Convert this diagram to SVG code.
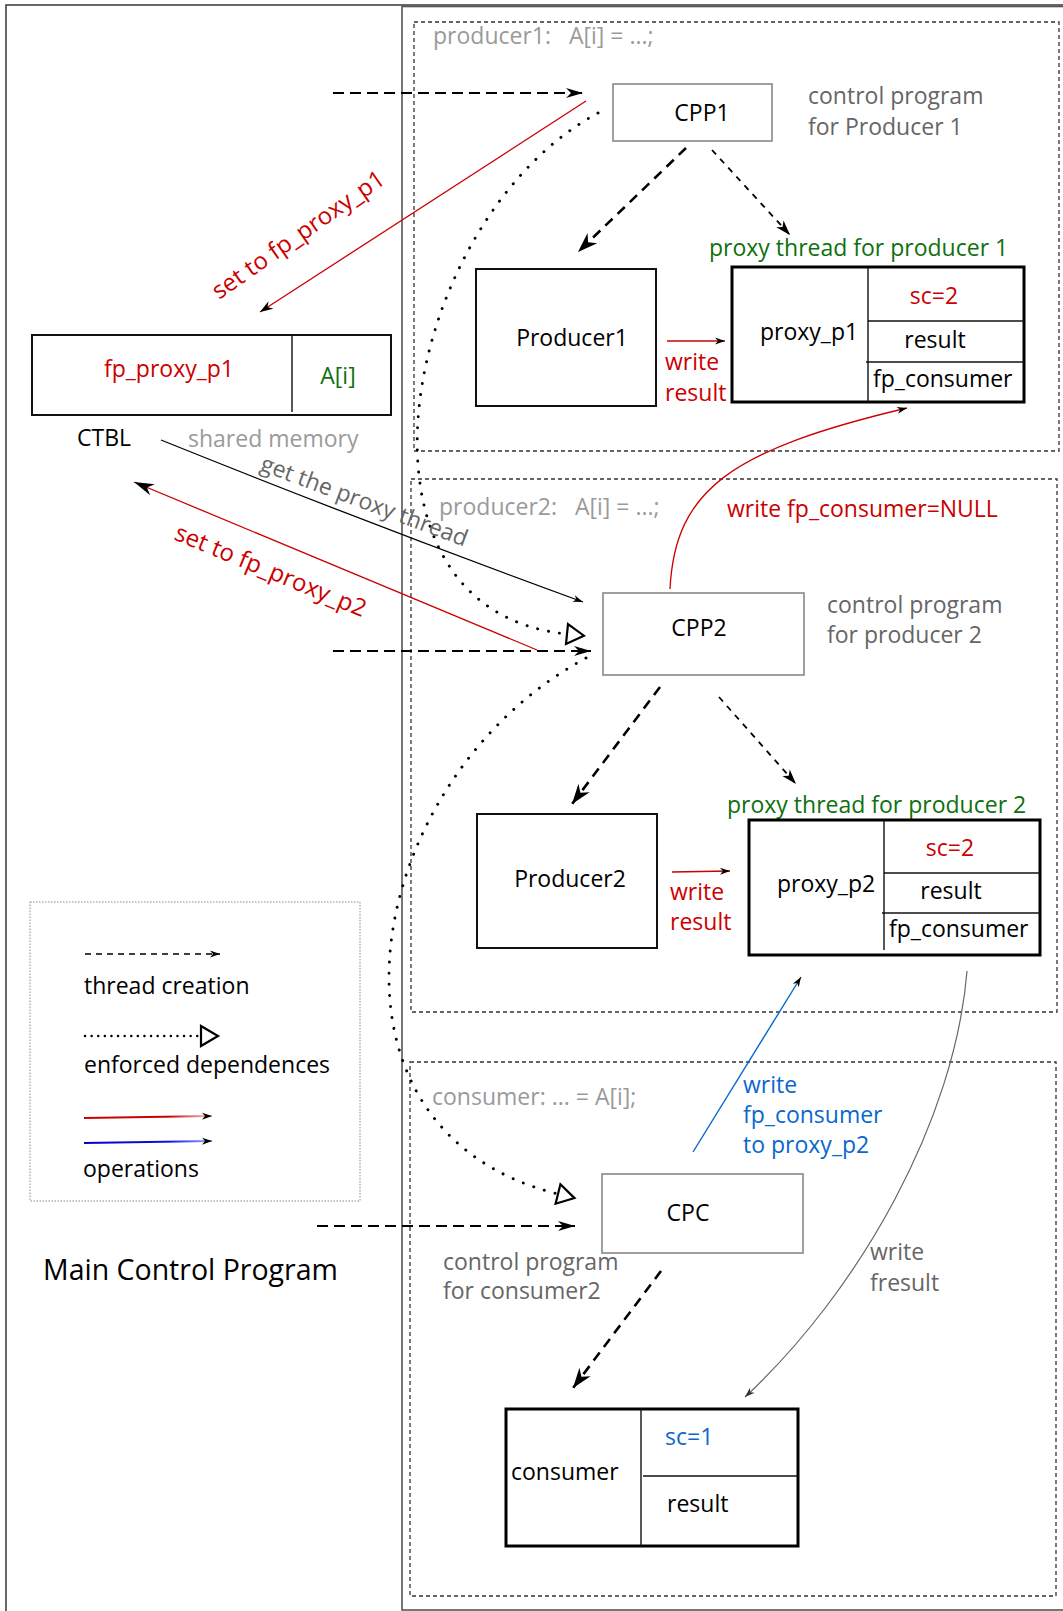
<svg xmlns="http://www.w3.org/2000/svg" width="1063" height="1611" viewBox="0 0 1063 1611">
<style>
text{font-family:"Open Sans","Noto Sans","DejaVu Sans",sans-serif;font-size:23px;fill:#000}
.red{fill:#cc0000}.grn{fill:#0f700f}.blu{fill:#0a68cc}.lg{fill:#9a9a9a}.dg{fill:#666}
.mid{text-anchor:middle}
.node{fill:#fff;stroke:#111;stroke-width:2}
.cp{fill:#fff;stroke:#888;stroke-width:1.6}
.px{fill:#fff;stroke:#000;stroke-width:3}
.div{stroke:#111;stroke-width:1.4;fill:none}
.region{fill:none;stroke:#333;stroke-width:1.3;stroke-dasharray:4 3}
.tc1{fill:none;stroke:#000;stroke-width:2;stroke-dasharray:11 6}
.tc2{fill:none;stroke:#000;stroke-width:2.6;stroke-dasharray:10 7}
.tc3{fill:none;stroke:#000;stroke-width:1.8;stroke-dasharray:6 6}
.dot{fill:none;stroke:#000;stroke-width:2.9;stroke-linecap:round;stroke-dasharray:0.1 11}
.op{fill:none;stroke:#cc0000;stroke-width:1.3}
</style>
<defs>
<marker id="aT" markerUnits="userSpaceOnUse" viewBox="-19 -8 20 16" markerWidth="20" markerHeight="16" refX="0" refY="0" orient="auto"><path d="M0,0 L-17,-5 L-12,0 L-17,5 Z" fill="#000"/></marker>
<marker id="aT2" markerUnits="userSpaceOnUse" viewBox="-22 -9 23 18" markerWidth="23" markerHeight="18" refX="0" refY="0" orient="auto"><path d="M0,0 L-20,-7 L-14,0 L-20,7 Z" fill="#000"/></marker>
<marker id="aT3" markerUnits="userSpaceOnUse" viewBox="-17 -7 18 14" markerWidth="18" markerHeight="14" refX="0" refY="0" orient="auto"><path d="M0,0 L-15,-5 L-11,0 L-15,5 Z" fill="#000"/></marker>
<marker id="aS" markerUnits="userSpaceOnUse" viewBox="-12 -6 13 12" markerWidth="13" markerHeight="12" refX="0" refY="0" orient="auto"><path d="M0,0 L-10,-3.5 L-7,0 L-10,3.5 Z" fill="#000"/></marker>
<marker id="aM" markerUnits="userSpaceOnUse" viewBox="-15 -6 16 12" markerWidth="16" markerHeight="12" refX="0" refY="0" orient="auto"><path d="M0,0 L-13,-4.5 L-9,0 L-13,4.5 Z" fill="#000"/></marker>
<marker id="aL" markerUnits="userSpaceOnUse" viewBox="-22 -8 23 16" markerWidth="23" markerHeight="16" refX="0" refY="0" orient="auto"><path d="M0,0 L-20,-6 L-14,0 L-20,6 Z" fill="#000"/></marker>
<marker id="aG" markerUnits="userSpaceOnUse" viewBox="-12 -6 13 12" markerWidth="13" markerHeight="12" refX="0" refY="0" orient="auto"><path d="M0,0 L-10,-3.5 L-7,0 L-10,3.5 Z" fill="#333"/></marker>
<marker id="tri" markerUnits="userSpaceOnUse" viewBox="-2 -12 22 24" markerWidth="22" markerHeight="24" refX="0" refY="0" orient="auto"><path d="M0,-10 L17,0 L0,10 Z" fill="#fff" stroke="#000" stroke-width="2.2" stroke-linejoin="miter"/></marker>
<linearGradient id="gR" gradientUnits="userSpaceOnUse" x1="84" y1="0" x2="205" y2="0"><stop offset="0" stop-color="#cc0000"/><stop offset="0.7" stop-color="#cc0000"/><stop offset="1" stop-color="#f0b0b0"/></linearGradient>
<linearGradient id="gB" gradientUnits="userSpaceOnUse" x1="84" y1="0" x2="205" y2="0"><stop offset="0" stop-color="#0000cc"/><stop offset="0.7" stop-color="#1010dd"/><stop offset="1" stop-color="#9090ff"/></linearGradient>
</defs>

<g id="frames">
<rect x="6" y="5" width="1120" height="1700" fill="none" stroke="#444" stroke-width="1.6"/>
<rect x="402" y="6.5" width="720" height="1603.5" fill="none" stroke="#555" stroke-width="1.6"/>
</g>

<g id="region-producer1">
<rect class="region" x="414" y="22" width="645" height="429"/>
<text class="lg" x="433" y="44" xml:space="preserve">producer1:   A[i] = ...;</text>
</g>
<g id="region-producer2">
<rect class="region" x="411" y="479" width="646" height="533"/>
<text class="lg" x="439" y="515" xml:space="preserve">producer2:   A[i] = ...;</text>
</g>
<g id="region-consumer">
<rect class="region" x="410" y="1062" width="646" height="534"/>
<text class="lg" x="432" y="1105">consumer: ... = A[i];</text>
</g>

<g id="ctbl">
<rect class="node" x="32" y="335" width="359" height="80"/>
<line class="div" x1="292" y1="335" x2="292" y2="412"/>
<text class="red mid" x="169" y="377">fp_proxy_p1</text>
<text class="grn mid" x="338" y="384">A[i]</text>
<text x="77" y="446">CTBL</text>
<text class="lg" x="188" y="447">shared memory</text>
</g>

<g id="cpp1">
<rect class="cp" x="613" y="84" width="159" height="57"/>
<text class="mid" x="702" y="121">CPP1</text>
<text class="dg" x="808" y="104">control program</text>
<text class="dg" x="808" y="135">for Producer 1</text>
</g>

<g id="producer1">
<rect class="node" x="476" y="269" width="180" height="137"/>
<text class="mid" x="572" y="346">Producer1</text>
</g>

<g id="proxy_p1">
<text class="grn" x="709" y="256">proxy thread for producer 1</text>
<rect class="px" x="732" y="267" width="292" height="135"/>
<line class="div" x1="868" y1="267" x2="868" y2="402"/>
<line class="div" x1="868" y1="321" x2="1024" y2="321"/>
<line class="div" x1="866" y1="362" x2="1024" y2="362"/>
<text x="760" y="340">proxy_p1</text>
<text class="red mid" x="934" y="304">sc=2</text>
<text class="mid" x="935" y="348">result</text>
<text x="873" y="387">fp_consumer</text>
</g>

<g id="cpp2">
<rect class="cp" x="603" y="593" width="201" height="82"/>
<text class="mid" x="699" y="636">CPP2</text>
<text class="dg" x="827" y="613">control program</text>
<text class="dg" x="827" y="643">for producer 2</text>
</g>

<g id="producer2">
<rect class="node" x="477" y="814" width="180" height="134"/>
<text class="mid" x="570" y="887">Producer2</text>
</g>

<g id="proxy_p2">
<text class="grn" x="727" y="813">proxy thread for producer 2</text>
<rect class="px" x="749" y="820" width="291" height="135"/>
<line class="div" x1="884" y1="820" x2="884" y2="950"/>
<line class="div" x1="884" y1="873" x2="1040" y2="873"/>
<line class="div" x1="882" y1="913" x2="1040" y2="913"/>
<text x="777" y="892">proxy_p2</text>
<text class="red mid" x="950" y="856">sc=2</text>
<text class="mid" x="951" y="899">result</text>
<text x="889" y="937">fp_consumer</text>
</g>

<g id="cpc">
<rect class="cp" x="602" y="1174" width="201" height="79"/>
<text class="mid" x="688" y="1221">CPC</text>
<text class="dg" x="443" y="1270">control program</text>
<text class="dg" x="443" y="1299">for consumer2</text>
</g>

<g id="consumer">
<rect class="px" x="506" y="1409" width="292" height="137"/>
<line class="div" x1="641" y1="1409" x2="641" y2="1546"/>
<line class="div" x1="643" y1="1476" x2="798" y2="1476"/>
<text x="511" y="1480">consumer</text>
<text class="blu" x="665" y="1445">sc=1</text>
<text x="667" y="1512">result</text>
</g>

<g id="legend">
<rect x="30" y="902" width="330" height="299" fill="none" stroke="#888" stroke-width="1" stroke-dasharray="1.5 1.5"/>
<line x1="85" y1="954" x2="220" y2="954" fill="none" stroke="#000" stroke-width="1.5" stroke-dasharray="6 5" marker-end="url(#aS)"/>
<text x="84" y="994">thread creation</text>
<path d="M85,1036 L201,1036" fill="none" stroke="#000" stroke-width="2.4" stroke-linecap="round" stroke-dasharray="0.1 6.5" marker-end="url(#tri)"/>
<text x="84" y="1073">enforced dependences</text>
<line x1="84" y1="1118" x2="212" y2="1116" stroke="url(#gR)" stroke-width="1.8" marker-end="url(#aS)"/>
<line x1="84" y1="1143" x2="212" y2="1141" stroke="url(#gB)" stroke-width="1.8" marker-end="url(#aS)"/>
<text x="83" y="1177">operations</text>
</g>

<g id="main-label">
<text x="43" y="1280" style="font-size:28.5px">Main Control Program</text>
</g>

<g id="connectors">
<line class="tc1" x1="333" y1="93" x2="583" y2="93" marker-end="url(#aT)"/>
<line class="tc1" x1="333" y1="651" x2="591" y2="651" marker-end="url(#aT)"/>
<line class="tc1" x1="317" y1="1226" x2="575" y2="1226" marker-end="url(#aT)"/>
<line class="tc2" x1="686" y1="148" x2="578" y2="252" marker-end="url(#aT2)"/>
<line class="tc3" x1="712" y1="150" x2="790" y2="235" marker-end="url(#aT3)"/>
<line class="tc2" x1="660" y1="687" x2="572" y2="804" marker-end="url(#aT2)"/>
<line class="tc3" x1="719" y1="697" x2="796" y2="784" marker-end="url(#aT3)"/>
<line class="tc2" x1="661" y1="1271" x2="573" y2="1388" marker-end="url(#aT2)"/>

<path class="dot" d="M598,113 C400,220 330,610 567,634" marker-end="url(#tri)"/>
<path class="dot" d="M586,658 C360,780 300,1130 558,1194" marker-end="url(#tri)"/>

<line class="op" x1="586" y1="101" x2="260" y2="312" marker-end="url(#aM)"/>
<text class="red" transform="translate(219,300) rotate(-35)" style="font-size:24px">set to fp_proxy_p1</text>
<line class="op" x1="537" y1="650" x2="134" y2="482" marker-end="url(#aL)"/>
<text class="red" transform="translate(173,539) rotate(22.5)" style="font-size:24px">set to fp_proxy_p2</text>
<path d="M161,440 Q372,525 583,602" fill="none" stroke="#000" stroke-width="1.3" marker-end="url(#aS)"/>
<text class="dg" transform="translate(259,470) rotate(20.5)">get the proxy thread</text>

<line class="op" x1="667" y1="341" x2="725" y2="341" marker-end="url(#aS)"/>
<text class="red" x="665" y="370">write</text>
<text class="red" x="665" y="401">result</text>
<line class="op" x1="672" y1="872" x2="730" y2="871" marker-end="url(#aS)"/>
<text class="red" x="670" y="900">write</text>
<text class="red" x="670" y="930">result</text>

<path class="op" d="M670,589 C675,490 730,450 907,408" marker-end="url(#aS)"/>
<text class="red" x="727" y="517">write fp_consumer=NULL</text>

<line x1="693" y1="1152" x2="801" y2="977" stroke="#0a68cc" stroke-width="1.4" marker-end="url(#aS)"/>
<text class="blu" x="743" y="1093">write</text>
<text class="blu" x="743" y="1123">fp_consumer</text>
<text class="blu" x="743" y="1153">to proxy_p2</text>

<path d="M967,971 C955,1120 860,1290 745,1397" fill="none" stroke="#666" stroke-width="1.2" marker-end="url(#aG)"/>
<text class="dg" x="870" y="1260">write</text>
<text class="dg" x="870" y="1291">fresult</text>
</g>
</svg>
